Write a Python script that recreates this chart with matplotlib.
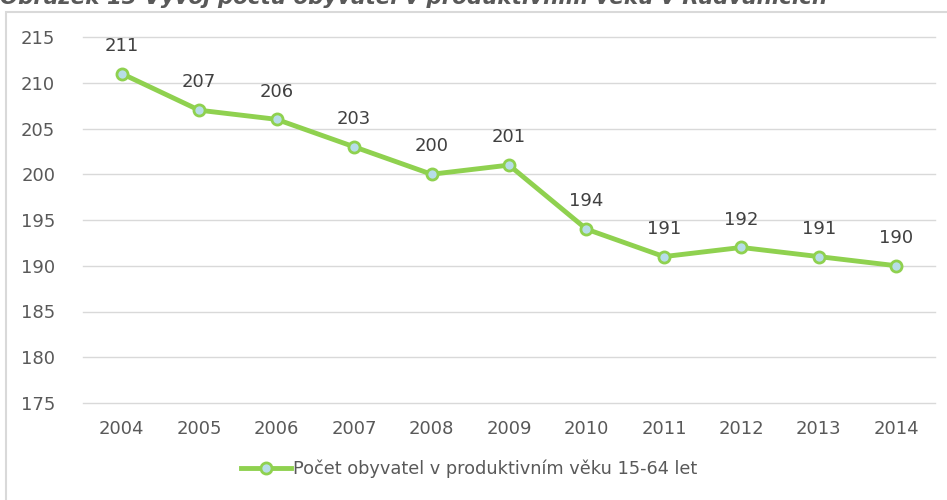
import matplotlib.pyplot as plt
from matplotlib.patches import Rectangle

years = ["2004", "2005", "2006", "2007", "2008", "2009", "2010", "2011", "2012", "2013", "2014"]
population = [211, 207, 206, 203, 200, 201, 194, 191, 192, 191, 190]
y_ticks = [175, 180, 185, 190, 195, 200, 205, 210, 215]
series_name = "Počet obyvatel v produktivním věku 15-64 let"
title = "Obrázek 13 Vývoj počtu obyvatel v produktivním věku v Radvanicích"

plt.rcParams['font.family'] = ['DejaVu Sans']
grey = '#595959'
green = '#8fd14f'

fig = plt.figure(figsize=(9.47, 5.0), dpi=100)
ax = fig.add_axes([83 / 947, 1 - 403 / 500, (935 - 83) / 947, 366 / 500])

# outer chart frame (runs off the right and bottom edge)
fig.patches.append(Rectangle((6 / 947, -0.1), 1.0, 1 - 12 / 500 + 0.1,
                             transform=fig.transFigure, fill=False,
                             edgecolor='#d9d9d9', linewidth=1.5))

# caption, cut off at the very top like in the source
cap = fig.text(0.0, 1 - 3.5 / 500, title, ha='left', va='baseline', fontsize=14,
               fontweight='bold', fontstyle='italic', color=grey)
fig.canvas.draw()
w = cap.get_window_extent().width
cap.set_fontsize(14 * 830 / w)

x = list(range(len(years)))
ax.plot(x, population, color=green, linewidth=3.5, marker='o', markersize=8,
        markerfacecolor='#b7dde8', markeredgecolor=green, markeredgewidth=2,
        label=series_name, zorder=3)

for xi, v in zip(x, population):
    ax.annotate(str(v), (xi, v), xytext=(0, 20), textcoords='offset points',
                ha='center', va='center', fontsize=13, color='#404040')

ax.set_xlim(-0.5, len(years) - 0.5)
ax.set_ylim(175, 215)
ax.set_yticks(y_ticks)
ax.set_xticks(x)
ax.set_xticklabels(years)
ax.yaxis.grid(True, color='#d9d9d9', linewidth=1)
for gl in ax.get_ygridlines():
    gl.set_clip_on(False)
ax.set_axisbelow(True)
for s in ax.spines.values():
    s.set_visible(False)
ax.tick_params(length=0, labelsize=13, labelcolor=grey)
ax.tick_params(axis='x', pad=12)
ax.tick_params(axis='y', pad=20)

ax.legend(loc='center', bbox_to_anchor=(0.453, -0.18), frameon=False,
          fontsize=12.8, labelcolor=grey, handlelength=2.8, handletextpad=0.1)

fig.savefig('out.png', dpi=100)
